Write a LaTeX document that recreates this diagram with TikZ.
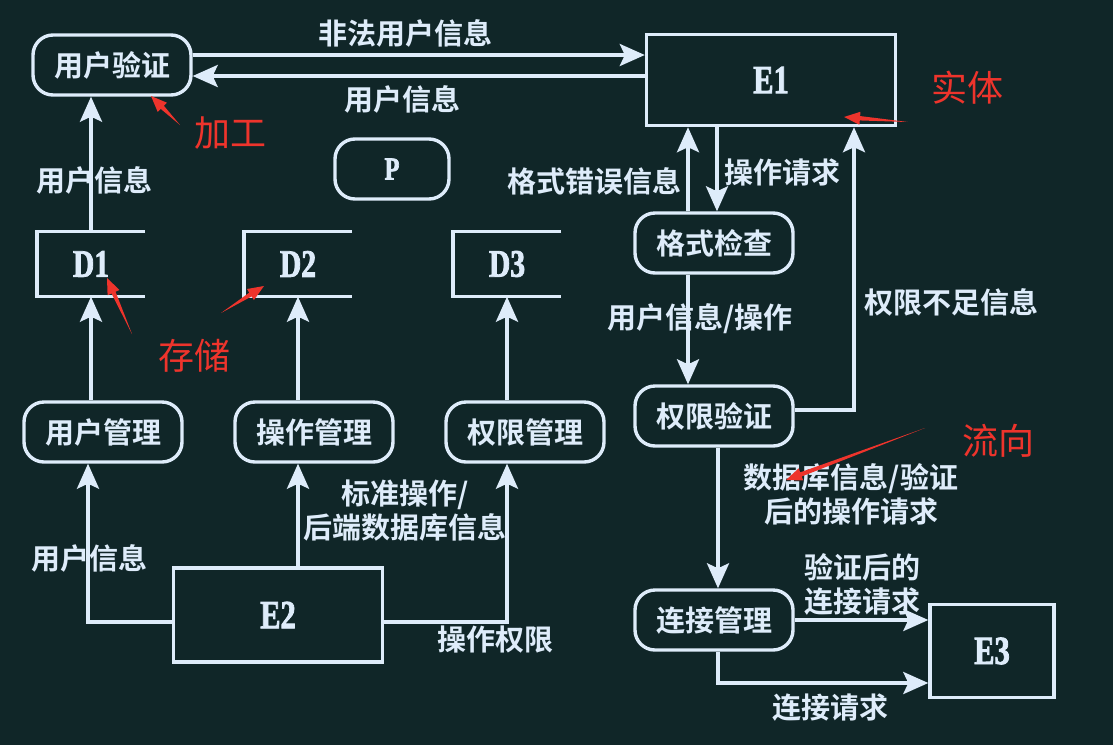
\documentclass[tikz,border=0pt]{standalone}
\usepackage{fontspec}
\newfontfamily\cjkfont{Noto Sans CJK SC Bold}
\newfontfamily\notefont{Noto Sans CJK SC}
\newfontfamily\entfont{Liberation Serif Bold}[FakeStretch=0.76, FakeBold=2]
\usetikzlibrary{arrows.meta,calc}

\definecolor{bgcol}{RGB}{16,38,40}
\definecolor{fgcol}{RGB}{222,236,250}
\definecolor{notecol}{RGB}{238,52,44}

% red hand-drawn pointer: tail, tip
\newcommand\notearrow[2]{%
  \coordinate (nb) at ($(#2)!16pt!(#1)$);
  \fill[notecol] (#1) -- ($(nb)!2.2pt!90:(#1)$) -- ($(nb)!6.5pt!90:(#1)$) -- (#2)
    -- ($(nb)!6.5pt!-90:(#1)$) -- ($(nb)!2.2pt!-90:(#1)$) -- cycle;
}

\begin{document}
\begin{tikzpicture}[x=1pt,y=-1pt,
  proc/.style={draw=fgcol, line width=3.4pt, rounded corners=20pt, minimum width=158pt,
    minimum height=60pt, text=fgcol, font=\cjkfont\fontsize{29}{34}\selectfont},
  ent/.style={draw=fgcol, line width=3.4pt, text=fgcol,
    font=\entfont\fontsize{40}{40}\selectfont},
  store/.style={minimum width=108pt, minimum height=65pt, text=fgcol,
    font=\entfont\fontsize{39}{40}\selectfont},
  flow/.style={draw=fgcol, line width=3.4pt, -{Stealth[length=25pt,width=22pt,inset=5pt]}},
  lbl/.style={text=fgcol, align=center, inner sep=0pt,
    font=\cjkfont\fontsize{29}{34}\selectfont},
  note/.style={text=notecol, inner sep=0pt, font=\notefont\fontsize{36}{40}\selectfont}]
\fill[bgcol] (0,0) rectangle (1113,745);
\useasboundingbox (0,0) rectangle (1113,745);

% processes
\node[proc] (yhyz) at (112,65) {用户验证};
\node[proc, minimum width=114pt] (p) at (392,169) {\entfont\fontsize{32}{34}\selectfont P};
\node[proc] (yhgl) at (103,432) {用户管理};
\node[proc] (czgl) at (314,432) {操作管理};
\node[proc] (qxgl) at (525,432) {权限管理};
\node[proc] (gsjc) at (714,243) {格式检查};
\node[proc] (qxyz) at (714,416) {权限验证};
\node[proc] (ljgl) at (714,620) {连接管理};

% entities
\node[ent, minimum width=249pt, minimum height=91pt] (e1) at (771,80) {E1};
\node[ent, minimum width=209pt, minimum height=94pt] (e2) at (278,615) {E2};
\node[ent, minimum width=124pt, minimum height=93pt] (e3) at (992,651) {E3};

% stores
\node[store] (d1) at (91,264) {D1};
\node[store] (d2) at (298,264) {D2};
\node[store] (d3) at (507,264) {D3};
\foreach \s in {d1,d2,d3}
  \draw[fgcol, line width=3.4pt] (\s.north east) -- (\s.north west) -- (\s.south west) -- (\s.south east);

% flows, left part
\draw[flow] ([yshift=10pt]yhyz.east) -- ([yshift=10pt]yhyz.east -| e1.west);
\draw[flow] ([yshift=-11pt]yhyz.east -| e1.west) -- ([yshift=-11pt]yhyz.east);
\draw[flow] (d1.north) -- (d1.north |- yhyz.south);
\draw[flow] (yhgl.north -| d1) -- (d1.south);
\draw[flow] (czgl.north -| d2) -- (d2.south);
\draw[flow] (qxgl.north -| d3) -- (d3.south);
\draw[flow] ([yshift=-7pt]e2.west) -| ([xshift=-15pt]yhgl.south);
\draw[flow] (e2.north -| d2) -- (czgl.south -| d2);
\draw[flow] ([yshift=-7pt]e2.east) -| (qxgl.south -| d3);

% flows, right part
\draw[flow] ([xshift=3pt]gsjc.north |- e1.south) -- ([xshift=3pt]gsjc.north);
\draw[flow] ([xshift=-26pt]gsjc.north) -- ([xshift=-26pt]gsjc.north |- e1.south);
\draw[flow] ([xshift=-26pt]gsjc.south) -- ([xshift=-26pt]qxyz.north);
\draw[flow] ([yshift=6pt]qxyz.east) -| ([xshift=83pt]e1.south);
\draw[flow] ([xshift=4pt]qxyz.south) -- ([xshift=4pt]ljgl.north);
\draw[flow] (ljgl.east) -- (ljgl.east -| e3.west);
\draw[flow] ([xshift=4pt]ljgl.south) |- ([yshift=-32pt]e3.west);

% flow labels
\node[lbl] (l1) at (405,33) {非法用户信息};
\node[lbl] (l2) at (402,99) {用户信息};
\node[lbl] (l3) at (94,180) {用户信息};
\node[lbl] (l4) at (89,558) {用户信息};
\node[lbl] (l5) at (405,511) {标准操作/\\后端数据库信息};
\node[lbl] (l6) at (495,640) {操作权限};
\node[lbl] (l7) at (594,181) {格式错误信息};
\node[lbl] (l8) at (782,172) {操作请求};
\node[lbl] (l9) at (700,319) {用户信息/操作};
\node[lbl] (l10) at (951,302) {权限不足信息};
\node[lbl] (l11) at (851,494) {数据库信息/验证\\后的操作请求};
\node[lbl] (l12) at (862,584) {验证后的\\连接请求};
\node[lbl] (l13) at (830,708) {连接请求};

% red notes
\node[note] (jg) at (230,133) {加工};
\node[note] (st) at (967,88) {实体};
\node[note] (cc) at (194,356) {存储};
\node[note] (lx) at (998,441) {流向};
\coordinate (jg tail) at (180,125); \coordinate (jg tip) at (151,96);
\coordinate (st tail) at (908,122); \coordinate (st tip) at (844,117);
\coordinate (cc tail1) at (132,334); \coordinate (cc tip1) at (107,278);
\coordinate (cc tail2) at (221,313); \coordinate (cc tip2) at (264,286);
\coordinate (lx tail) at (925,428); \coordinate (lx tip) at (786,480);
\notearrow{jg tail}{jg tip}
\notearrow{st tail}{st tip}
\notearrow{cc tail1}{cc tip1}
\notearrow{cc tail2}{cc tip2}
\notearrow{lx tail}{lx tip}
\end{tikzpicture}
\end{document}
